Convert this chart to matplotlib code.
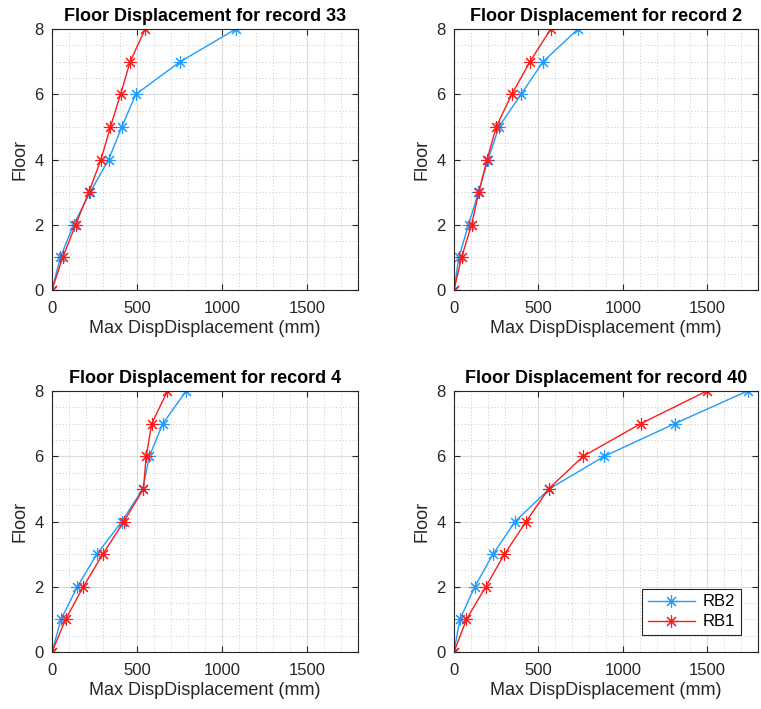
import matplotlib
matplotlib.use("Agg")
import matplotlib.pyplot as plt
from matplotlib.ticker import MultipleLocator

plt.rcParams['font.family'] = ['Liberation Sans', 'DejaVu Sans']

floors = [0, 1, 2, 3, 4, 5, 6, 7, 8]
records = [33, 2, 4, 40]

# max displacement (mm) per floor
rb2_33 = [0, 49, 127, 225, 333, 411, 493, 755, 1082]
rb1_33 = [0, 63, 139, 217, 288, 344, 403, 460, 548]
rb2_2 = [0, 29, 86, 145, 202, 266, 397, 528, 734]
rb1_2 = [0, 45, 104, 147, 196, 250, 342, 450, 573]
rb2_4 = [0, 53, 149, 264, 411, 534, 573, 652, 789]
rb1_4 = [0, 80, 184, 299, 423, 538, 554, 587, 679]
rb2_40 = [0, 35, 123, 231, 362, 564, 890, 1307, 1738]
rb1_40 = [0, 74, 188, 299, 427, 560, 765, 1106, 1497]

rb2 = [rb2_33, rb2_2, rb2_4, rb2_40]
rb1 = [rb1_33, rb1_2, rb1_4, rb1_40]

blue = '#1f9bff'
red = '#ff1a1a'
star = (8, 2, 0)

fig = plt.figure(figsize=(7.61, 7.09), dpi=100)
W, H = 761, 709
# axes boxes in pixels: left, top, right, bottom
boxes = [(52, 29, 358, 290), (454, 29, 758, 290),
         (52, 391, 358, 652), (454, 391, 758, 652)]

for i, (l, t, r, b) in enumerate(boxes):
    ax = fig.add_axes([l / W, 1 - b / H, (r - l) / W, (b - t) / H])
    ax.plot(rb2[i], floors, color=blue, lw=1.0, marker=star, ms=9, mew=0.8, label='RB2')
    ax.plot(rb1[i], floors, color=red, lw=1.0, marker=star, ms=9, mew=0.8, label='RB1')
    ax.set_xlim(0, 1800)
    ax.set_ylim(0, 8)
    ax.xaxis.set_major_locator(MultipleLocator(500))
    ax.xaxis.set_minor_locator(MultipleLocator(100))
    ax.yaxis.set_major_locator(MultipleLocator(2))
    ax.yaxis.set_minor_locator(MultipleLocator(0.5))
    ax.grid(which='major', color='#dcdcdc', lw=0.8, ls='-')
    ax.grid(which='minor', color='#cccccc', lw=0.6, ls=(0, (1.5, 2.5)))
    ax.set_axisbelow(True)
    ax.tick_params(which='both', direction='in', top=True, right=True,
                   labelsize=12, labelcolor='#262626', color='#262626')
    ax.tick_params(which='major', length=4)
    ax.tick_params(which='minor', length=0)
    ax.tick_params(axis='x', pad=8)
    ax.tick_params(axis='y', pad=6)
    for s in ax.spines.values():
        s.set_color('#262626')
        s.set_linewidth(0.8)
    ax.set_title('Floor Displacement for record %d' % records[i],
                 fontsize=13, fontweight='bold', pad=6)
    ax.set_xlabel('Max DispDisplacement (mm)', fontsize=13, color='#262626', labelpad=3)
    ax.set_ylabel('Floor', fontsize=13, color='#262626', labelpad=4)
    if i == 3:
        leg = ax.legend(loc='lower right', fontsize=12, fancybox=False,
                        edgecolor='#262626', framealpha=1, handlelength=2.8,
                        handletextpad=0.5, borderpad=0.35, labelspacing=0.3,
                        borderaxespad=1.0)
        leg.get_frame().set_linewidth(0.8)

fig.savefig('out.png', dpi=100)
